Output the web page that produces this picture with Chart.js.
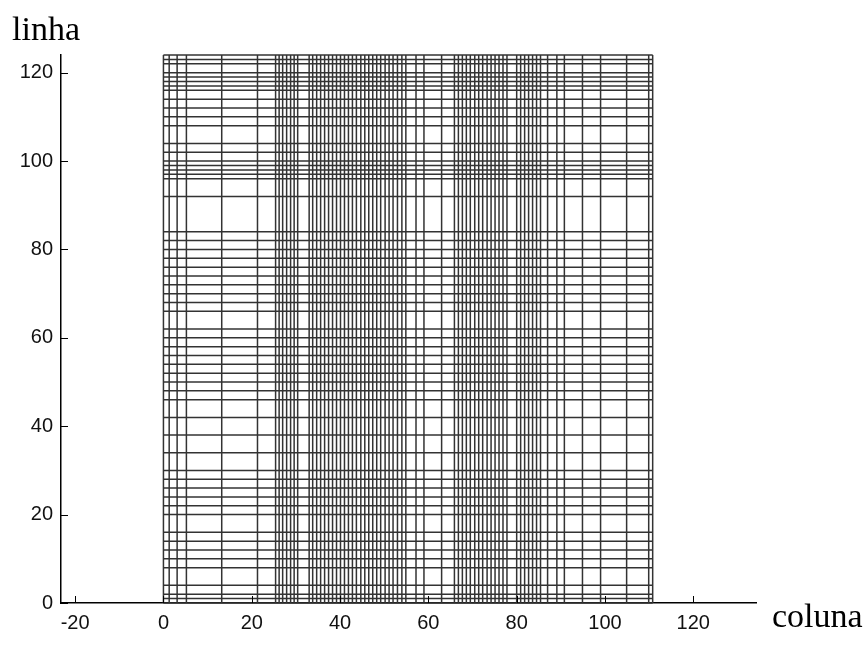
<!DOCTYPE html>
<html>
<head>
<meta charset="utf-8">
<title>linha x coluna</title>
<script src="https://cdn.jsdelivr.net/npm/chart.js@4/dist/chart.umd.min.js"></script>
<style>
  body { margin: 0; background: #fff; }
  #wrap { position: relative; width: 865px; height: 647px; }
  .lbl { position: absolute; font-family: "Liberation Serif", "Times New Roman", serif; font-size: 34px; line-height: 34px; color: #000; white-space: nowrap; }
</style>
</head>
<body>
<div id="wrap">
  <canvas id="grade" width="865" height="647"></canvas>
  <div class="lbl" style="left:12px; top:12px;">linha</div>
  <div class="lbl" style="left:772px; top:599px;">coluna</div>
</div>
<script>
// column positions (vertical lines) and row positions (horizontal lines)
const colunas = [0, 1.3, 3.1, 5.2, 13.2, 21.3, 25.4, 26.2, 27.0, 27.9, 28.8, 29.6, 30.4,
  33.0, 33.8, 34.7, 35.6, 36.5, 37.4, 38.3, 39.2, 40.1, 41.0, 41.9, 42.8, 43.7, 44.7,
  45.6, 46.5, 47.4, 48.3, 49.2, 50.2, 51.1, 52.0, 53.0, 54.0, 54.9, 57.2, 59.0, 63.0,
  65.9, 66.8, 67.7, 68.6, 69.5, 70.5, 71.4, 72.3, 73.3, 74.2, 75.1, 76.0, 76.9, 77.8,
  80.0, 80.9, 81.8, 82.7, 83.6, 84.5, 85.4, 87.0, 89.1, 90.8, 94.9, 99.0, 104.9, 109.9, 110.8];
const linhas = [0, 1, 2, 4, 8, 10, 12, 14, 16, 20, 22, 24, 26, 28, 30, 34, 38, 42, 46, 48,
  50, 52, 54, 56, 58, 60, 62, 66, 68, 70, 72, 74, 76, 78, 80, 82, 84, 92, 96, 97, 98, 99,
  100, 102, 104, 108, 110, 112, 114, 116, 117, 118, 119, 120, 122, 123, 124];
const xTicks = [-20, 0, 20, 40, 60, 80, 100, 120];
const yTicks = [0, 20, 40, 60, 80, 100, 120];

const X_MIN = -23.2, X_MAX = 134.2, Y_MIN = 0, Y_MAX = 124;
const TICK_LEN = 7;
const LINE_COLOR = '#333';

const colLo = Math.min(...linhas), colHi = Math.max(...linhas);
const rowLo = Math.min(...colunas), rowHi = Math.max(...colunas);

const datasets = [
  ...colunas.map(c => ({ data: [{ x: c, y: colLo }, { x: c, y: colHi }] })),
  ...linhas.map(r => ({ data: [{ x: rowLo, y: r }, { x: rowHi, y: r }] }))
].map(ds => ({ ...ds, showLine: true, borderColor: LINE_COLOR, borderWidth: 1.5, pointRadius: 0, clip: false }));

// matlab style ticks, pointing into the plot
const inwardTicks = {
  id: 'inwardTicks',
  afterDraw(chart) {
    const { ctx, chartArea: a, scales: { x, y } } = chart;
    ctx.save();
    ctx.strokeStyle = '#000';
    ctx.lineWidth = 1;
    ctx.beginPath();
    x.ticks.forEach(t => {
      const px = Math.round(x.getPixelForValue(t.value)) + 0.5;
      ctx.moveTo(px, a.bottom);
      ctx.lineTo(px, a.bottom - TICK_LEN);
    });
    y.ticks.forEach(t => {
      const py = Math.round(y.getPixelForValue(t.value)) + 0.5;
      ctx.moveTo(a.left, py);
      ctx.lineTo(a.left + TICK_LEN, py);
    });
    ctx.stroke();
    ctx.restore();
  }
};

const tickFont = { family: '"Liberation Sans", Arial, sans-serif', size: 20 };

new Chart(document.getElementById('grade'), {
  type: 'scatter',
  data: { datasets },
  options: {
    responsive: false,
    animation: false,
    layout: { padding: { top: 55, right: 109, bottom: 0, left: 0 } },
    plugins: { legend: { display: false }, tooltip: { enabled: false } },
    scales: {
      x: {
        type: 'linear', min: X_MIN, max: X_MAX,
        grid: { display: false, drawTicks: false },
        border: { display: true, color: '#000', width: 1.5 },
        ticks: { color: '#111', font: tickFont, padding: 8 },
        afterBuildTicks: s => { s.ticks = xTicks.map(v => ({ value: v })); },
        afterFit: s => { s.height = 44; }
      },
      y: {
        type: 'linear', min: Y_MIN, max: Y_MAX,
        grid: { display: false, drawTicks: false },
        border: { display: true, color: '#000', width: 1.5 },
        ticks: { color: '#111', font: tickFont, padding: 8 },
        afterBuildTicks: s => { s.ticks = yTicks.map(v => ({ value: v })); },
        afterFit: s => { s.width = 61; }
      }
    }
  },
  plugins: [inwardTicks]
});
</script>
</body>
</html>
